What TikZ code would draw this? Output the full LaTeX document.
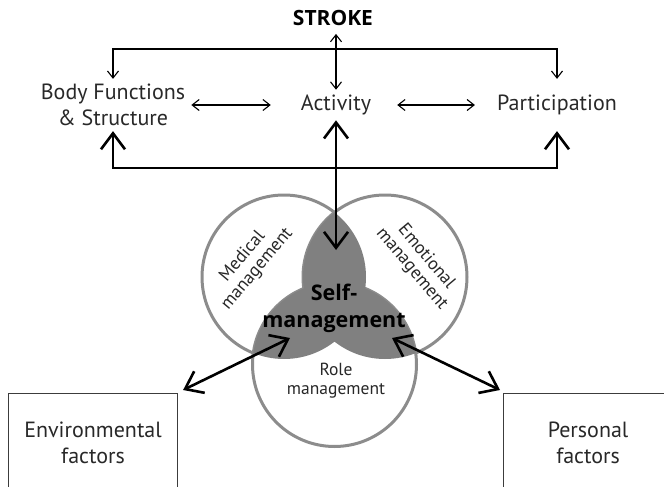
\documentclass[tikz,border=0pt]{standalone}
\usepackage{fontspec}
\setmainfont{PT Sans}
\newfontfamily\headfont{Open Sans}
\usetikzlibrary{positioning}
\usetikzlibrary{arrows.meta}
\definecolor{venngray}{RGB}{128,128,128}
\definecolor{vennline}{RGB}{140,140,140}
\definecolor{boxline}{RGB}{60,60,60}
\definecolor{labeltext}{RGB}{40,40,40}

\tikzset{
    smalltip/.tip={Straight Barb[length=7pt,width=11pt,line width=1.1pt]},
    bigtip/.tip={Straight Barb[length=16pt,width=24pt,line width=2.6pt]},
}

\begin{document}
\begin{tikzpicture}[x=1pt, y=-1pt,
        every node/.style={align=center, text=labeltext, inner sep=2pt, font=\fontsize{22}{26}\selectfont},
        thinline/.style={line width=1.1pt, smalltip-smalltip},
        thickline/.style={line width=2.6pt, bigtip-bigtip},
        venntext/.style={font=\fontsize{18}{19}\selectfont},
        headtext/.style={text=black, font=\headfont\bfseries\fontsize{#1}{27}\selectfont},
        factorbox/.style={draw=boxline, line width=1.1pt, minimum width=169pt, minimum height=98pt}]

        \clip (0,0) rectangle (664,487);

        % Top row
        \node[headtext=21] (stroke) at (333,18) {STROKE};
        \node[inner ysep=5pt] (bfs) at (113,105) {Body Functions\\\& Structure};
        \node[inner ysep=5pt] (act) at (336,105) {Activity};
        \node (part) at (557,105) {Participation};

        \coordinate (topbus) at (336,49);
        \coordinate (botbus) at (336,168);
        \coordinate (venntop) at (336,250);

        \draw[thinline, shorten <=6pt] (stroke.south -| act) -- (act);
        \draw[thinline] (bfs.north) |- (topbus) -| (part.north |- bfs.north);
        \draw[thinline, shorten <=4pt, shorten >=28pt] (bfs) -- (act);
        \draw[thinline, shorten <=24pt, shorten >=20pt] (act) -- (part);

        % Self-management circles
        \coordinate (cmed) at (284,277);
        \coordinate (cemo) at (385,277);
        \coordinate (crole) at (334.5,364.5);
        \draw[vennline, line width=3pt, fill=white] (cmed) circle[radius=82pt];
        \draw[vennline, line width=3pt, fill=white] (cemo) circle[radius=82pt];
        \draw[vennline, line width=3pt, fill=white] (crole) circle[radius=82pt];
        \begin{scope}
            \clip (cmed) circle[radius=82pt];
            \fill[venngray] (cemo) circle[radius=82pt];
            \fill[venngray] (crole) circle[radius=82pt];
        \end{scope}
        \begin{scope}
            \clip (cemo) circle[radius=82pt];
            \fill[venngray] (crole) circle[radius=82pt];
        \end{scope}

        \node[venntext, rotate=50] (med) at (250,263) {Medical\\management};
        \node[venntext, rotate=-50] (emo) at (419,263) {Emotional\\management};
        \node[venntext, font=\fontsize{17.5}{19}\selectfont] (role) at (336,381) {Role\\management};
        \node[headtext=21.5] (self) at (334,308) {Self-\\management};

        \draw[thickline] (bfs.south) |- (botbus) -| (part.south |- bfs.south);
        \draw[thickline] (act.south) -- (venntop);

        % Bottom boxes
        \node[factorbox, anchor=north west] (env) at (8,393) {Environmental\\factors};
        \node[factorbox, anchor=north west] (pers) at (503,393) {Personal\\factors};

        \coordinate (selfL) at (290,338);
        \coordinate (selfR) at (392,338);
        \draw[thickline] (selfL) -- ([shift={(5,-3)}]env.north east);
        \draw[thickline] (selfR) -- ([shift={(-3,-3)}]pers.north west);

    \end{tikzpicture}
\end{document}
